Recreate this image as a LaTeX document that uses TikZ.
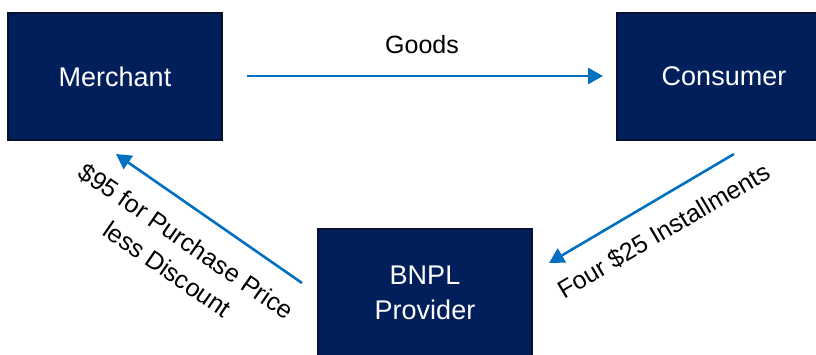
\documentclass[tikz,border=0pt]{standalone}
\usepackage{fontspec}
\setmainfont{Liberation Sans}
\usetikzlibrary{arrows.meta}
\definecolor{navy}{RGB}{0,31,91}
\definecolor{navyedge}{RGB}{8,16,48}
\definecolor{arrowblue}{RGB}{0,112,192}
\begin{document}
\begin{tikzpicture}[x=1pt,y=-1pt,
  party/.style={draw=navyedge,line width=1.8pt,fill=navy,text=white,
    minimum width=214pt,minimum height=127pt,inner sep=0pt,align=center,
    font=\fontsize{27}{35}\selectfont},
  flow/.style={draw=arrowblue,line width=2.6pt,-{Triangle[length=15pt,width=16pt]}},
  lbl/.style={font=\fontsize{25}{34}\selectfont,align=center,inner sep=0pt}]
\useasboundingbox (0,0) rectangle (816,354);
\clip (0,0) rectangle (816,354);
\node[party] (merchant) at (115,76.5) {Merchant};
\node[party] (consumer) at (724,76.5) {Consumer};
\node[party] (bnpl) at (425,292.5) {BNPL\\Provider};
\coordinate (g1) at (247,76);
\coordinate (g2) at (603,76);
\coordinate (c1) at (734,154);
\coordinate (c2) at (549,263);
\coordinate (b1) at (302,283);
\coordinate (b2) at (116,154);
\draw[flow] (g1) -- (g2);
\draw[flow] (c1) -- (c2);
\draw[flow] (b1) -- (b2);
\node[lbl] (goods) at (422,45) {Goods};
\node[lbl,rotate=30.5] (inst) at (664,231) {Four \$25 Installments};
\node[lbl,rotate=-34.7] (pay) at (177,255) {\$95 for Purchase Price\\less Discount};
\end{tikzpicture}
\end{document}
